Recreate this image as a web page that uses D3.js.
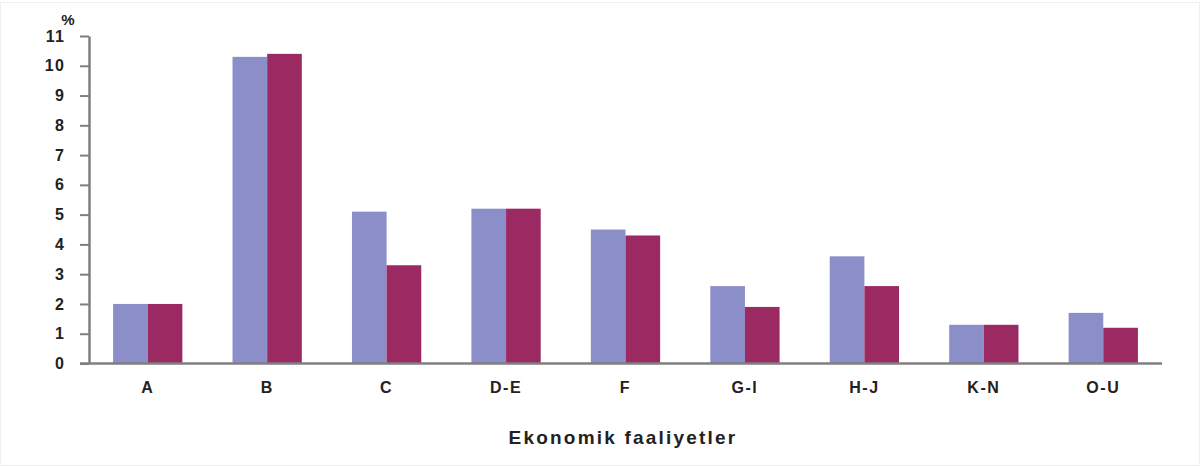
<!DOCTYPE html>
<html lang="tr">
<head>
  <meta charset="UTF-8" />
  <title>Ekonomik faaliyetler</title>
  <script src="https://d3js.org/d3.v7.min.js"></script>
  <style>
    body { margin: 0; background: #fff; }
    svg { display: block; font-family: "Liberation Sans", Arial, sans-serif; }
    .tick text { font-weight: bold; fill: #222; }
  </style>
</head>
<body>
  <svg width="1200" height="468"></svg>
  <script>
    // categories and the two series (percent)
    const categories = ["A", "B", "C", "D-E", "F", "G-I", "H-J", "K-N", "O-U"];
    const series1 = [2.0, 10.3, 5.1, 5.2, 4.5, 2.6, 3.6, 1.3, 1.7];
    const series2 = [2.0, 10.4, 3.3, 5.2, 4.3, 1.9, 2.6, 1.3, 1.2];
    const yTicks = [0, 1, 2, 3, 4, 5, 6, 7, 8, 9, 10, 11];

    const svg = d3.select("svg");

    // faint frame like the scanned original
    svg.append("rect")
      .attr("x", 0.5).attr("y", 2.5)
      .attr("width", 1199).attr("height", 463)
      .attr("fill", "none").attr("stroke", "#f0f0f0");

    const x = d3.scaleBand()
      .domain(categories)
      .range([88, 1163])
      .paddingInner(0.42)
      .paddingOuter(0.21);

    const xSub = d3.scaleBand()
      .domain([0, 1])
      .range([0, x.bandwidth()]);

    const y = d3.scaleLinear()
      .domain([0, 11])
      .range([363.5, 36]);

    const colors = ["#8b8ec9", "#9b2a63"];

    const groups = svg.append("g")
      .selectAll("g")
      .data(categories)
      .join("g")
      .attr("transform", d => `translate(${x(d)},0)`);

    groups.selectAll("rect")
      .data((d, i) => [series1[i], series2[i]])
      .join("rect")
      .attr("x", (d, j) => xSub(j))
      .attr("width", xSub.bandwidth())
      .attr("y", d => y(d))
      .attr("height", d => y(0) - y(d))
      .attr("fill", (d, j) => colors[j]);

    // y axis
    const yAxis = svg.append("g")
      .attr("transform", "translate(89,0)")
      .call(d3.axisLeft(y).tickValues(yTicks).tickSize(9).tickPadding(15).tickSizeOuter(0));
    yAxis.select(".domain").attr("stroke", "#7f7f7f").attr("stroke-width", 2.5);
    yAxis.selectAll(".tick line").attr("stroke", "#7f7f7f").attr("stroke-width", 2);
    yAxis.selectAll(".tick text").attr("font-size", 16).attr("letter-spacing", 1.2);

    // x axis baseline
    svg.append("line")
      .attr("x1", 80).attr("x2", 1162)
      .attr("y1", y(0)).attr("y2", y(0))
      .attr("stroke", "#7f7f7f").attr("stroke-width", 2.5);

    // x labels centered between the two bars
    const xAxis = svg.append("g")
      .attr("transform", `translate(0,${y(0)})`)
      .call(d3.axisBottom(x).tickSize(0).tickPadding(18));
    xAxis.select(".domain").remove();
    xAxis.selectAll(".tick text").attr("font-size", 16).attr("letter-spacing", 1.5);

    // unit label
    svg.append("text")
      .attr("x", 68).attr("y", 25)
      .attr("text-anchor", "middle")
      .attr("font-size", 15).attr("font-weight", "bold").attr("fill", "#222")
      .text("%");

    // axis title
    svg.append("text")
      .attr("x", 623).attr("y", 444)
      .attr("text-anchor", "middle")
      .attr("font-size", 19).attr("font-weight", "bold")
      .attr("letter-spacing", 2.2).attr("fill", "#222")
      .text("Ekonomik faaliyetler");
  </script>
</body>
</html>
